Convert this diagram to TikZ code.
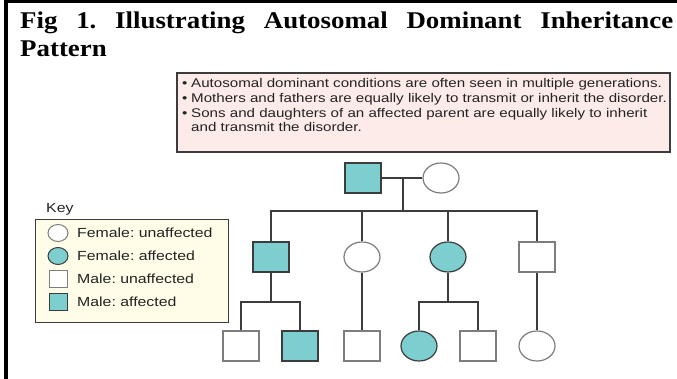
\documentclass[tikz,border=0pt]{standalone}
\usepackage{fontspec}
\setmainfont{Liberation Serif}
\newfontfamily\titlefont[FakeStretch=1.12]{Liberation Serif Bold}
\newfontfamily\arialx[FakeStretch=1.2]{Liberation Sans}
\usetikzlibrary{shapes.geometric}
\definecolor{teal1}{RGB}{124,206,207}
\definecolor{pinkfill}{RGB}{253,235,233}
\definecolor{creamfill}{RGB}{255,253,232}
\definecolor{linegray}{RGB}{60,60,60}
\definecolor{ungray}{RGB}{125,125,125}
\definecolor{txt}{RGB}{35,35,35}
\tikzset{
  male/.style={rectangle, draw=ungray, line width=1.2pt, fill=white, minimum width=36pt, minimum height=30pt, inner sep=0pt},
  female/.style={ellipse, draw=ungray, line width=1.2pt, fill=white, minimum width=36pt, minimum height=30pt, inner sep=0pt},
  aff/.style={fill=teal1, draw=linegray},
  kmale/.style={rectangle, draw=ungray, line width=1pt, fill=white, minimum width=18pt, minimum height=17pt, inner sep=0pt},
  kfemale/.style={ellipse, draw=ungray, line width=1pt, fill=white, minimum width=20pt, minimum height=17pt, inner sep=0pt},
  ktext/.style={anchor=west, inner sep=0pt, font=\arialx\fontsize{13.2}{15}\selectfont, text=txt},
  btext/.style={anchor=base west, inner sep=0pt, font=\arialx\fontsize{12.6}{14}\selectfont, text=txt},
  link/.style={draw=linegray, line width=1.5pt},
  titletext/.style={anchor=base west, inner sep=0pt, font=\titlefont\fontsize{24}{28}\selectfont}
}
\begin{document}
\frenchspacing
\begin{tikzpicture}[x=1pt,y=-1pt]
\useasboundingbox (0,0) rectangle (677,379);
\fill[white] (0,0) rectangle (677,379);
% frame
\draw[line width=4pt] (5.5,379) -- (5.5,1.5) -- (677,1.5);
% title
\node[titletext] (t1) at (20,29) {\makebox[653pt][s]{Fig 1. Illustrating Autosomal Dominant Inheritance}};
\node[titletext] (t2) at (20,57) {Pattern};
% pink box
\draw[fill=pinkfill, draw=linegray, line width=1.3pt] (177,73) rectangle (670,152);
\node[btext] (b1) at (182,88) {\textbullet};
\node[btext] (l1) at (191,88) {Autosomal dominant conditions are often seen in multiple generations.};
\node[btext] (b2) at (182,103) {\textbullet};
\node[btext] (l2) at (191,103) {Mothers and fathers are equally likely to transmit or inherit the disorder.};
\node[btext] (b3) at (182,118) {\textbullet};
\node[btext] (l3) at (191,118) {Sons and daughters of an affected parent are equally likely to inherit};
\node[btext] (l4) at (191,132) {and transmit the disorder.};
% key
\node[ktext] (key) at (46,209) {Key};
\draw[fill=creamfill, draw=linegray, line width=1pt] (35,220) rectangle (228,322);
\node[kfemale] (k1) at (58,233) {};
\node[ktext] (k1t) at (77,233) {Female: unaffected};
\node[kfemale, aff] (k2) at (58,256) {};
\node[ktext] (k2t) at (77,256) {Female: affected};
\node[kmale] (k3) at (58,279) {};
\node[ktext] (k3t) at (77,279) {Male: unaffected};
\node[kmale, aff] (k4) at (58,302) {};
\node[ktext] (k4t) at (77,302) {Male: affected};
% generation I
\node[male, aff] (F) at (363,178) {};
\node[female] (M) at (441,178) {};
\coordinate (m) at (403,178);
\coordinate (s) at (403,211);
% generation II
\node[male, aff] (c1) at (271,257) {};
\node[female] (c2) at (362,257) {};
\node[female, aff] (c3) at (448,257) {};
\node[male] (c4) at (537,257) {};
% generation III
\node[male] (g1) at (241,346) {};
\node[male, aff] (g2) at (300,346) {};
\node[male] (g3) at (362,346) {};
\node[female, aff] (g4) at (419,346) {};
\node[male] (g5) at (478,346) {};
\node[female] (g6) at (537,346) {};
\coordinate (j1) at (271,302);
\coordinate (j3) at (448,302);
% links
\draw[link] (F) -- (M);
\draw[link] (m) -- (s);
\draw[link] (c1.north) |- (s) -| (c4.north);
\draw[link] (c2.north) -- (c2.north |- s);
\draw[link] (c3.north) -- (c3.north |- s);
\draw[link] (c1.south) -- (j1);
\draw[link] (g1.north) |- (j1) -| (g2.north);
\draw[link] (c2.south) -- (g3.north);
\draw[link] (c3.south) -- (j3);
\draw[link] (g4.north) |- (j3) -| (g5.north);
\draw[link] (c4.south) -- (g6.north);
\end{tikzpicture}
\end{document}
